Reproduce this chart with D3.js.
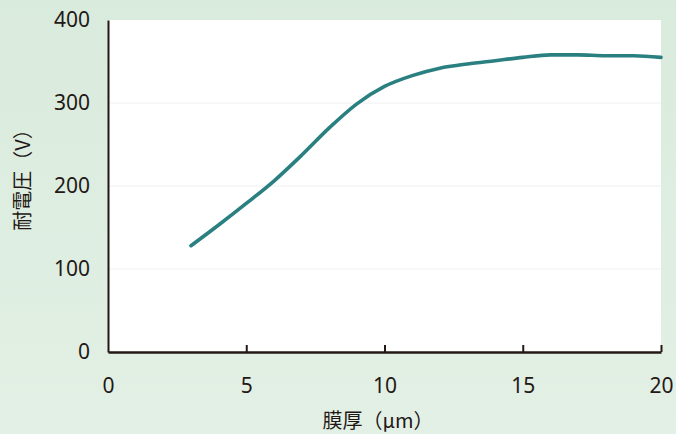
<!DOCTYPE html>
<html>
<head>
<meta charset="utf-8">
<script src="https://cdn.jsdelivr.net/npm/d3@7"></script>
<style>
  html, body { margin: 0; padding: 0; }
  body { width: 676px; height: 434px; overflow: hidden; }
  text { font-family: "Noto Sans CJK JP", "Noto Sans", sans-serif; fill: #231815; }
</style>
</head>
<body>
<svg id="chart" width="676" height="434"></svg>
<script>
// film thickness (µm) vs withstand voltage (V)
const thickness = [3, 4, 5, 6, 7, 8, 9, 10, 11, 12, 13, 14, 15, 16, 17, 18, 19, 20];
const voltage   = [128, 153, 179, 206, 237, 270, 299, 320, 333, 342, 347, 351, 355, 358, 358, 357, 357, 355];
const xTicks = [0, 5, 10, 15, 20];
const yTicks = [0, 100, 200, 300, 400];

const svg = d3.select("#chart");
const margin = {left: 108, top: 20, right: 15, bottom: 82};
const width = 676 - margin.left - margin.right;
const height = 434 - margin.top - margin.bottom;

// soft green background
const defs = svg.append("defs");
const grad = defs.append("linearGradient")
    .attr("id", "bg").attr("x1", 0).attr("y1", 0).attr("x2", 0).attr("y2", 1);
grad.append("stop").attr("offset", "0%").attr("stop-color", "#d9ebdd");
grad.append("stop").attr("offset", "100%").attr("stop-color", "#e3f0e5");
svg.append("rect").attr("width", 676).attr("height", 434).attr("fill", "url(#bg)");

const x = d3.scaleLinear().domain([0, 20]).range([0, width]);
const y = d3.scaleLinear().domain([0, 400]).range([height, 0]);

const g = svg.append("g").attr("transform", `translate(${margin.left},${margin.top})`);

g.append("rect").attr("width", width).attr("height", height).attr("fill", "#fff");

// faint gridlines
g.selectAll(".grid")
    .data(yTicks.filter(d => d > 0 && d < 400))
    .enter().append("line")
    .attr("x1", 0).attr("x2", width)
    .attr("y1", d => y(d)).attr("y2", d => y(d))
    .attr("stroke", "#f0f0f0").attr("stroke-width", 1);

// data line
const line = d3.line()
    .x((d, i) => x(thickness[i]))
    .y(d => y(d))
    .curve(d3.curveMonotoneX);

g.append("path")
    .datum(voltage)
    .attr("d", line)
    .attr("fill", "none")
    .attr("stroke", "#2a8080")
    .attr("stroke-width", 3.6)
    .attr("stroke-linecap", "round");

// x axis, ticks point up
const xAxis = g.append("g")
    .attr("transform", `translate(0,${height})`)
    .call(d3.axisBottom(x).tickValues(xTicks).tickSize(-7).tickSizeOuter(0));
xAxis.select(".domain").attr("stroke", "#231815").attr("stroke-width", 2.5);
xAxis.selectAll(".tick line").attr("stroke", "#231815").attr("stroke-width", 2)
    .filter(d => d === 0).remove();
xAxis.selectAll(".tick text")
    .attr("y", 41).attr("dy", null)
    .attr("font-size", 21).attr("fill", "#231815");

// y axis, line only
const yAxis = g.append("g")
    .call(d3.axisLeft(y).tickValues(yTicks).tickSize(0).tickPadding(18));
yAxis.select(".domain").attr("stroke", "#231815").attr("stroke-width", 2);
yAxis.selectAll(".tick text").attr("font-size", 21).attr("fill", "#231815");
yAxis.selectAll(".tick line").remove();

svg.selectAll(".tick text").style("font-family", '"Noto Sans", sans-serif');

// axis titles
svg.append("text")
    .attr("x", 378).attr("y", 428)
    .attr("text-anchor", "middle")
    .attr("font-size", 20)
    .text("膜厚（μm）");

svg.append("text")
    .attr("transform", "translate(30,175) rotate(-90)")
    .attr("text-anchor", "middle")
    .attr("font-size", 20)
    .text("耐電圧（V）");
</script>
</body>
</html>
